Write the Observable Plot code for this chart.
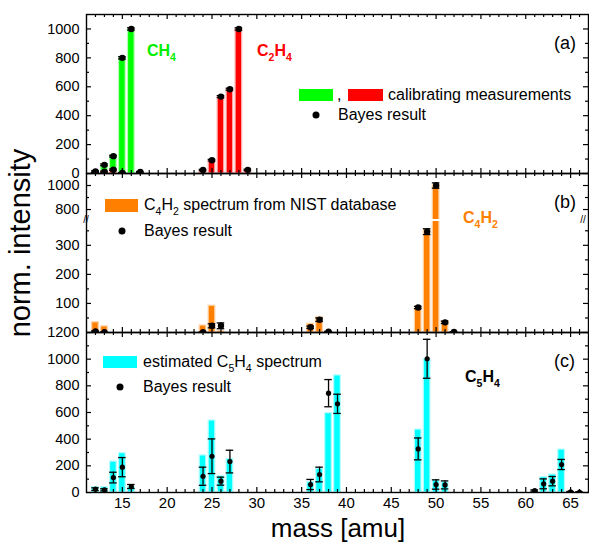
<!DOCTYPE html>
<html>
<head>
<meta charset="utf-8">
<script src="https://cdn.jsdelivr.net/npm/d3@7"></script>
<script src="https://cdn.jsdelivr.net/npm/@observablehq/plot@0.6"></script>
<style>
  body { margin: 0; background: #fff; font-family: "Liberation Sans", Arial, sans-serif; }
  #chart { position: relative; width: 589px; height: 543px; overflow: hidden; background: #fff; }
  #chart svg { position: absolute; left: 0; }
  .lbl { position: absolute; white-space: nowrap; line-height: 1; transform: translateY(-50%); color: #000; }
  .lbl sub { font-size: 0.66em; vertical-align: -0.45em; line-height: 0; }
  .sw { position: absolute; }
  .bd { position: absolute; width: 7px; height: 7px; border-radius: 50%; background: #000; transform: translate(-50%, -50%); }
</style>
</head>
<body>
<div id="chart"></div>
<script>
// ---- mass axis (amu) shared by the three panels ----
const massDomain = [11, 67];
const massMajor = [15, 20, 25, 30, 35, 40, 45, 50, 55, 60, 65];

// ---- (a) calibration spectra of CH4 and C2H4 ----
const ch4Mass  = [12, 13, 14, 15, 16, 17];
const ch4Calib = [18, 60, 122, 802, 1000, 8];
const ch4Bayes = [15, 60, 120, 800, 1000, 10];
const ch4Err   = [5, 6, 6, 8, 8, 4];

const c2h4Mass  = [12, 13, 14, 15, 24, 25, 26, 27, 28, 29];
const c2h4Calib = [6, 14, 28, 3, 23, 92, 532, 583, 1000, 24];
const c2h4Bayes = [5, 12, 26, 4, 24, 92, 532, 583, 1000, 25];
const c2h4Err   = [4, 4, 5, 3, 5, 6, 7, 7, 8, 5];

// ---- (b) C4H2: NIST reference spectrum vs. Bayes result ----
const c4h2Mass  = [12, 13, 24, 25, 26, 36, 37, 38, 48, 49, 50, 51, 52];
const c4h2Nist  = [35, 21, 24, 92, 5, 30, 52, 2, 86, 354, 1000, 39, 2];
const c4h2Bayes = [4, 1, 1, 23, 23, 18, 44, 3, 86, 347, 1000, 35, 2];
const c4h2Err   = [2, 1, 1, 7, 10, 4, 6, 1, 4, 10, 22, 4, 1];

// ---- (c) C5H4: estimated spectrum vs. Bayes result ----
const c5h4Mass  = [12, 13, 14, 15, 16, 24, 25, 26, 27, 36, 37, 38, 39, 48, 49, 50, 51, 61, 62, 63, 64, 65, 66];
const c5h4Est   = [40, 40, 232, 295, 40, 278, 540, 122, 252, 77, 178, 595, 878, 472, 1000, 90, 77, 8, 115, 135, 322, 0, 0];
const c5h4Bayes = [25, 20, 112, 190, 45, 122, 272, 85, 232, 60, 135, 745, 665, 327, 1003, 60, 57, 15, 65, 85, 210, 5, 3];
const c5h4Err   = [10, 8, 40, 72, 15, 68, 130, 30, 85, 38, 55, 102, 72, 82, 146, 35, 30, 5, 37, 35, 38, 3, 3];

// ---- y ranges and tick values per panel ----
const yDomainA = [0, 1100];
const yTicksA = [0, 200, 400, 600, 800, 1000];
const yMinorA = [100, 300, 500, 700, 900];
// (b) is split by an axis break into an upper and a lower segment
const yDomainBHigh = [717, 1100];
const yTicksBHigh = [800, 1000];
const yMinorBHigh = [900];
const yDomainBLow = [0, 382];
const yTicksBLow = [100, 200, 300];
const yMinorBLow = [50, 150, 250, 350];
const yDomainC = [0, 1200];
const yTicksC = [0, 200, 400, 600, 800, 1000, 1200];
const yMinorC = [100, 300, 500, 700, 900, 1100];

const table = (mass, v, b, e) => mass.map((m, i) => ({m, v: v[i], b: b[i], e: e[i]}));
const ch4  = table(ch4Mass, ch4Calib, ch4Bayes, ch4Err);
const c2h4 = table(c2h4Mass, c2h4Calib, c2h4Bayes, c2h4Err);
const c4h2 = table(c4h2Mass, c4h2Nist, c4h2Bayes, c4h2Err);
const c5h4 = table(c5h4Mass, c5h4Est, c5h4Bayes, c5h4Err);

const W = 589, ML = 86, MR = 1;
const plotW = W - ML - MR;
const massMinor = d3.range(massDomain[0] + 1, massDomain[1]).filter(m => m % 5 !== 0);
const halfBar = 0.37, halfCap = 0.42;
const ink = {stroke: "#000", strokeWidth: 1.2};

function bars(data, fill, halo) {
  return Plot.rectY(data, {
    x1: d => d.m - halfBar, x2: d => d.m + halfBar, y1: 0, y2: "v",
    fill, stroke: halo, strokeWidth: 1.2, clip: true
  });
}

function bayes(data, r) {
  const o = {stroke: "#000", strokeWidth: 1.3, clip: true};
  return [
    Plot.ruleX(data, {x: "m", y1: d => d.b - d.e, y2: d => d.b + d.e, ...o}),
    Plot.ruleY(data, {y: d => d.b - d.e, x1: d => d.m - halfCap, x2: d => d.m + halfCap, ...o}),
    Plot.ruleY(data, {y: d => d.b + d.e, x1: d => d.m - halfCap, x2: d => d.m + halfCap, ...o}),
    Plot.dot(data, {x: "m", y: "b", r, fill: "#000", stroke: "none", clip: true})
  ];
}

// inward ticks on the frame of a panel
function frameTicks(h, major, minor, {top = true, bottom = true} = {}) {
  const big = 5, small = 3;
  const m = [];
  if (bottom) m.push(
    Plot.tickX(massMajor, {x: d => d, insetTop: h - big, ...ink}),
    Plot.tickX(massMinor, {x: d => d, insetTop: h - small, ...ink}));
  if (top) m.push(
    Plot.tickX(massMajor, {x: d => d, insetBottom: h - big, ...ink}),
    Plot.tickX(massMinor, {x: d => d, insetBottom: h - small, ...ink}));
  m.push(
    Plot.tickY(major, {y: d => d, insetRight: plotW - big, ...ink}),
    Plot.tickY(major, {y: d => d, insetLeft: plotW - big, ...ink}),
    Plot.tickY(minor, {y: d => d, insetRight: plotW - small, ...ink}),
    Plot.tickY(minor, {y: d => d, insetLeft: plotW - small, ...ink}));
  return m;
}

const style = {background: "transparent", overflow: "visible", fontFamily: "Liberation Sans, Arial, sans-serif", fontSize: "14.5px"};
const yAxis = ticks => Plot.axisY(ticks, {tickSize: 0, tickPadding: 7, fontSize: 14.5, label: null, tickFormat: d3.format("d")});
const frameLine = {stroke: "#000", strokeWidth: 1.4};

// panel (a)
const plotA = Plot.plot({
  width: W, height: 180, marginTop: 14, marginBottom: 7, marginLeft: ML, marginRight: MR, style,
  x: {domain: massDomain, axis: null},
  y: {domain: yDomainA, axis: null},
  marks: [
    bars(ch4, "#00ff00", "#b4ffb4"),
    bars(c2h4, "#ff0000", "#ffb4b4"),
    ...bayes(ch4, 3.2),
    ...bayes(c2h4, 3.2),
    yAxis(yTicksA),
    ...frameTicks(159, yTicksA, yMinorA),
    Plot.frame(frameLine)
  ]
});

// panel (b), upper segment above the axis break
const plotBHigh = Plot.plot({
  width: W, height: 59, marginTop: 13, marginBottom: 0, marginLeft: ML, marginRight: MR, style,
  x: {domain: massDomain, axis: null},
  y: {domain: yDomainBHigh, axis: null},
  marks: [
    bars(c4h2, "#ff8000", "#ffd2a6"),
    ...bayes(c4h2, 3.2),
    yAxis(yTicksBHigh),
    ...frameTicks(46, yTicksBHigh, yMinorBHigh, {bottom: false}),
    Plot.ruleX(massDomain, {...frameLine, insetBottom: -1}),
    Plot.ruleY([yDomainBHigh[1]], frameLine)
  ]
});

// panel (b), lower segment below the axis break
const plotBLow = Plot.plot({
  width: W, height: 121, marginTop: 0, marginBottom: 10, marginLeft: ML, marginRight: MR, style,
  x: {domain: massDomain, axis: null},
  y: {domain: yDomainBLow, axis: null},
  marks: [
    bars(c4h2, "#ff8000", "#ffd2a6"),
    ...bayes(c4h2, 3.2),
    yAxis(yTicksBLow),
    ...frameTicks(111, yTicksBLow, yMinorBLow, {top: false}),
    Plot.ruleX(massDomain, {...frameLine, insetTop: -1}),
    Plot.ruleY([yDomainBLow[0]], frameLine)
  ]
});

// panel (c)
const plotC = Plot.plot({
  width: W, height: 223, marginTop: 12, marginBottom: 51, marginLeft: ML, marginRight: MR, style,
  x: {domain: massDomain},
  y: {domain: yDomainC, axis: null},
  marks: [
    bars(c5h4, "#00ffff", "#b4ffff"),
    ...bayes(c5h4, 2.6),
    yAxis(yTicksC),
    Plot.axisX(massMajor, {tickSize: 0, tickPadding: 5, fontSize: 15, label: null}),
    ...frameTicks(160, yTicksC, yMinorC),
    Plot.frame(frameLine)
  ]
});

const chart = document.getElementById("chart");
[[plotA, 0], [plotBHigh, 160], [plotBLow, 221], [plotC, 320]].forEach(([svg, top]) => {
  svg.style.top = top + "px";
  chart.appendChild(svg);
});

// text, legends and swatches
function label(html, left, cy, css = "") {
  const d = document.createElement("div");
  d.className = "lbl";
  d.innerHTML = html;
  d.style.cssText = `left:${left}px;top:${cy}px;${css}`;
  chart.appendChild(d);
}
function swatch(left, top, w, h, color) {
  const d = document.createElement("div");
  d.className = "sw";
  d.style.cssText = `left:${left}px;top:${top}px;width:${w}px;height:${h}px;background:${color};`;
  chart.appendChild(d);
}
function bdot(cx, cy) {
  const d = document.createElement("div");
  d.className = "bd";
  d.style.cssText = `left:${cx}px;top:${cy}px;`;
  chart.appendChild(d);
}

const legendFont = "font-size:16px;";
const tagFont = "font-size:16px;font-weight:bold;";

// (a)
swatch(299, 89, 34, 12, "#00ff00");
label(",", 337, 95, legendFont);
swatch(348, 89, 35, 12, "#ff0000");
label("calibrating measurements", 388, 95, legendFont);
bdot(316, 115);
label("Bayes result", 338, 115, legendFont);
label("CH<sub>4</sub>", 147, 51, tagFont + "color:#00ee00;");
label("C<sub>2</sub>H<sub>4</sub>", 257, 51, tagFont + "color:#ff0000;");
label("(a)", 554, 43, "font-size:18px;");

// (b)
swatch(105, 199, 33, 13, "#ff8000");
label("C<sub>4</sub>H<sub>2</sub> spectrum from NIST database", 144, 205, legendFont);
bdot(122, 231);
label("Bayes result", 144, 231, legendFont);
label("C<sub>4</sub>H<sub>2</sub>", 463, 218, tagFont + "color:#ff8000;");
label("(b)", 554, 202, "font-size:18px;");
// axis-break marks on both sides of (b)
label("//", 86, 220, "font-size:10px;transform:translate(-50%,-50%);");
label("//", 583, 220, "font-size:10px;transform:translate(-50%,-50%);");

// (c)
swatch(103, 356, 34, 12, "#00ffff");
label("estimated C<sub>5</sub>H<sub>4</sub> spectrum", 143, 362, legendFont);
bdot(120, 387);
label("Bayes result", 143, 387, legendFont);
label("C<sub>5</sub>H<sub>4</sub>", 465, 377, tagFont);
label("(c)", 554, 361, "font-size:18px;");

// axis titles
label("mass [amu]", 338, 528, "font-size:26px;transform:translate(-50%,-50%);");
label("norm. intensity", 20, 243, "font-size:29px;transform:translate(-50%,-50%) rotate(-90deg);");
</script>
</body>
</html>
